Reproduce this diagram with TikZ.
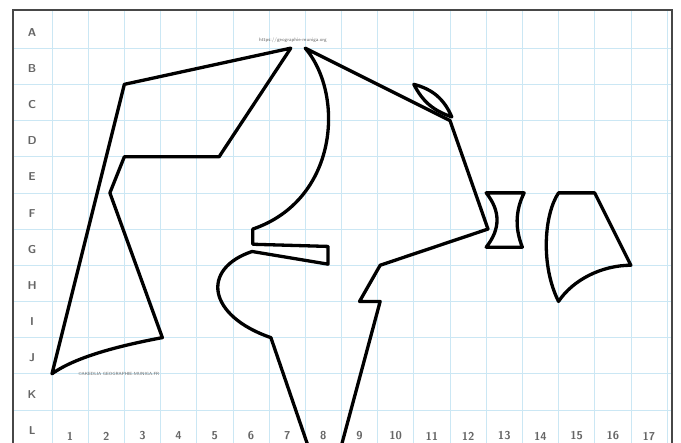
\documentclass[tikz,border=0pt]{standalone}
\usetikzlibrary{positioning}
\begin{document}
\begin{tikzpicture}[x=1cm, y=1cm,
  gridline/.style={draw={rgb,255:red,203;green,231;blue,244}, line width=0.6pt},
  frameline/.style={draw=black!72, line width=1.5pt},
  shapeline/.style={draw=black, line width=2.6pt, line join=round, line cap=round},
  rowlbl/.style={font=\sffamily\bfseries\small, text=black!60},
  collbl/.style={font=\sffamily\bfseries\small, text=black!60},
  credit/.style={font=\sffamily\fontsize{3.9}{4}\selectfont, text=black!60, inner sep=0pt}]

\useasboundingbox (-1.437,0.331) rectangle (17.385,-11.91);
\clip (-1.437,0.331) rectangle (17.385,-11.91);

% grid
\foreach \k in {0,...,17} {\draw[gridline] (\k,0.055) -- (\k,-12.5);}
\foreach \r in {1,...,11} {\draw[gridline] (-1.08,-\r) -- (17.14,-\r);}

% frame
\draw[frameline] (-1.08,-12.5) -- (-1.08,0.055) -- (17.14,0.055) -- (17.14,-12.5);

% row and column labels
\foreach \l [count=\r from 0] in {A,B,C,D,E,F,G,H,I,J,K,L}
  {\node[rowlbl] (row-\l) at (-0.55,-\r-0.56) {\l};}
\foreach \k in {1,...,17}
  {\node[collbl] (col-\k) at (\k-0.5,-11.72) {\k};}

% credits
\node[credit] (url) at (6.66,-0.77) {https://geographie-muniga.org};
\node[credit, font=\sffamily\fontsize{3.5}{4}\selectfont] (copy) at (1.85,-10.01) {\textcopyright AKEDLIA GEOGRAPHIE-MUNIGA.FR};

% left shape
\draw[shapeline] (0,-10) -- (2,-2) -- (6.6,-1) -- (4.62,-4) -- (2,-4) -- (1.6,-5) -- (3.05,-9)
  .. controls (2,-9.2) and (0.7,-9.5) .. (0,-10) -- cycle;

% centre shape
\draw[shapeline] (7,-1) .. controls (8.1,-2.3) and (7.9,-5.2) .. (5.55,-6)
  -- (5.55,-6.42) -- (7.63,-6.48) -- (7.63,-6.97) -- (5.53,-6.62)
  .. controls (4.1,-7.1) and (4.3,-8.4) .. (6.05,-9)
  -- (7.25,-12.5) -- (7.86,-12.5) -- (9.07,-8) -- (8.5,-8) -- (9.07,-7)
  -- (12.05,-6) -- (11,-3) -- cycle;

% leaf
\draw[shapeline] (10,-2) to[bend left=26] (11.05,-2.9) to[bend left=22] (10,-2);

% hourglass
\draw[shapeline] (12,-5) -- (13.05,-5) .. controls (12.8,-5.5) and (12.8,-6) .. (13,-6.5)
  -- (12,-6.5) .. controls (12.4,-6) and (12.4,-5.5) .. (12,-5) -- cycle;

% right shape
\draw[shapeline] (14,-5) -- (15,-5) -- (16,-7) .. controls (15.2,-7) and (14.4,-7.4) .. (14,-8)
  .. controls (13.5,-7) and (13.6,-5.6) .. (14,-5) -- cycle;

\end{tikzpicture}
\end{document}
